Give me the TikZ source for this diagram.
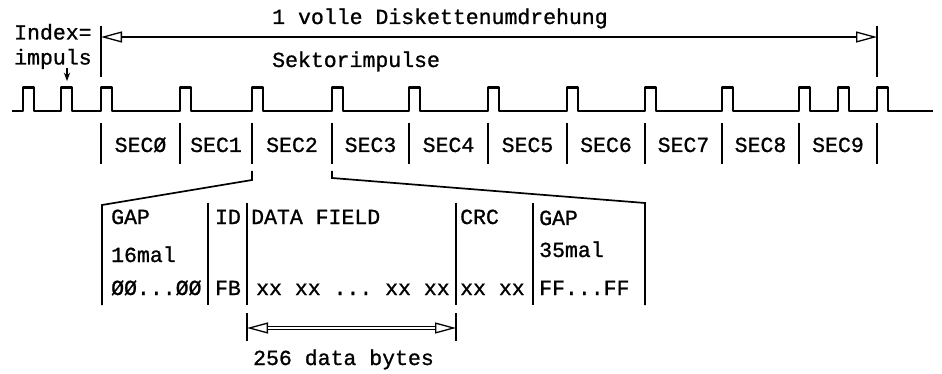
\documentclass[tikz,border=0pt]{standalone}
\usepackage{fontspec}
\setmonofont{Liberation Mono}[FakeBold=1]
\usetikzlibrary{arrows.meta,calc}
\tikzset{>=Stealth,every node/.style={font=\ttfamily\fontsize{21.5}{24}\selectfont,inner sep=0pt,text height=14pt,text depth=0pt},
 signal/.style={line width=2.8pt,line join=round},edge/.style={line width=1.7pt},
 dimen/.style={line width=1.3pt,{Triangle[open,length=21pt,width=11pt]}-{Triangle[open,length=21pt,width=11pt]}},
 lbl/.style={anchor=west}}

\begin{document}
\begin{tikzpicture}[x=1pt,y=-1pt]
\useasboundingbox (0,0) rectangle (942,374);
% Impulsfolge und Sektorgrenzen
\draw[signal] (12,111) \foreach \x in {23,61,101,180,252,332,409,488,567,645,722,799,838,877}{-- (\x,111) -- (\x,87.5) -- ++(11,0) -- ++(0,23.5)} -- (933,111);
\foreach \x[count=\i from 0] in {101,180,252,332,409,488,567,645,722,799,877}{\draw[edge] (\x,123)--(\x,164) coordinate (t\i);}
\foreach \i[evaluate=\i as \j using int(\i+1)] in {0,...,9}{\node (sec\i) at ($(t\i)!.5!(t\j)+(0,-19)$) {SEC\ifnum\i=0 Ø\else\i\fi};}
% eine Umdrehung
\coordinate (u0) at (101,37);\coordinate (u1) at (877,37);
\draw[edge,line width=1.4pt] (101,26)--(101,77) (877,26)--(877,77);\draw[dimen] (u0)--(u1);
\node (umdr) at (440,17) {1 volle Diskettenumdrehung};
\node[lbl] (sekt) at (272,60) {Sektorimpulse};
\node[anchor=base west] (idx) at (14,39.5) {Index=};\node[anchor=base west] (imp) at (14,64.5) {impuls};
\coordinate (ix) at (67,81);\draw[->,line width=1.2pt] ($(ix)+(0,-13)$)--(ix);
% Aufbau eines Sektors
\coordinate (b0) at (102,205);\coordinate (b1) at (645,203);
\draw[edge] ($(t2)+(0,7)$)--($(t2)+(0,16)$)--(b0)--(102,305);
\draw[edge] ($(t3)+(0,7)$)--($(t3)+(0,14)$)--(b1)--(645,305);
\foreach \x in {208,247,456,533}{\draw[edge] (\x,203)--(\x,305);}
\node[lbl] (gap1) at (111,217) {GAP};\node[lbl] (n16) at (111,255) {16mal};\node[lbl] (z00) at (111,288) {ØØ...ØØ};
\node (id) at (228,217) {ID};\node (fb) at (228,288) {FB};
\node[lbl] (data) at (251,217) {DATA FIELD};\node[lbl] (xx) at (256,288) {xx xx ... xx xx};
\node[lbl] (crc) at (460,217) {CRC};\node[lbl] (xx2) at (460,288) {xx xx};
\node[lbl] (gap2) at (539,218) {GAP};\node[lbl] (n35) at (539,250) {35mal};\node[lbl] (ff) at (539,288) {FF...FF};
% 256 Bytes
\coordinate (d0) at (247,328);\coordinate (d1) at (456,328);
\draw[edge,line width=1.4pt] (247,313)--(247,341) (456,313)--(456,341);
\draw[dimen] (d0)--(d1);\draw[line width=1pt,double,double distance=2.6pt] ($(d0)+(21,0)$)--($(d1)+(-21,0)$);
\node (bytes) at (343.5,358) {256 data bytes};
\end{tikzpicture}
\end{document}
